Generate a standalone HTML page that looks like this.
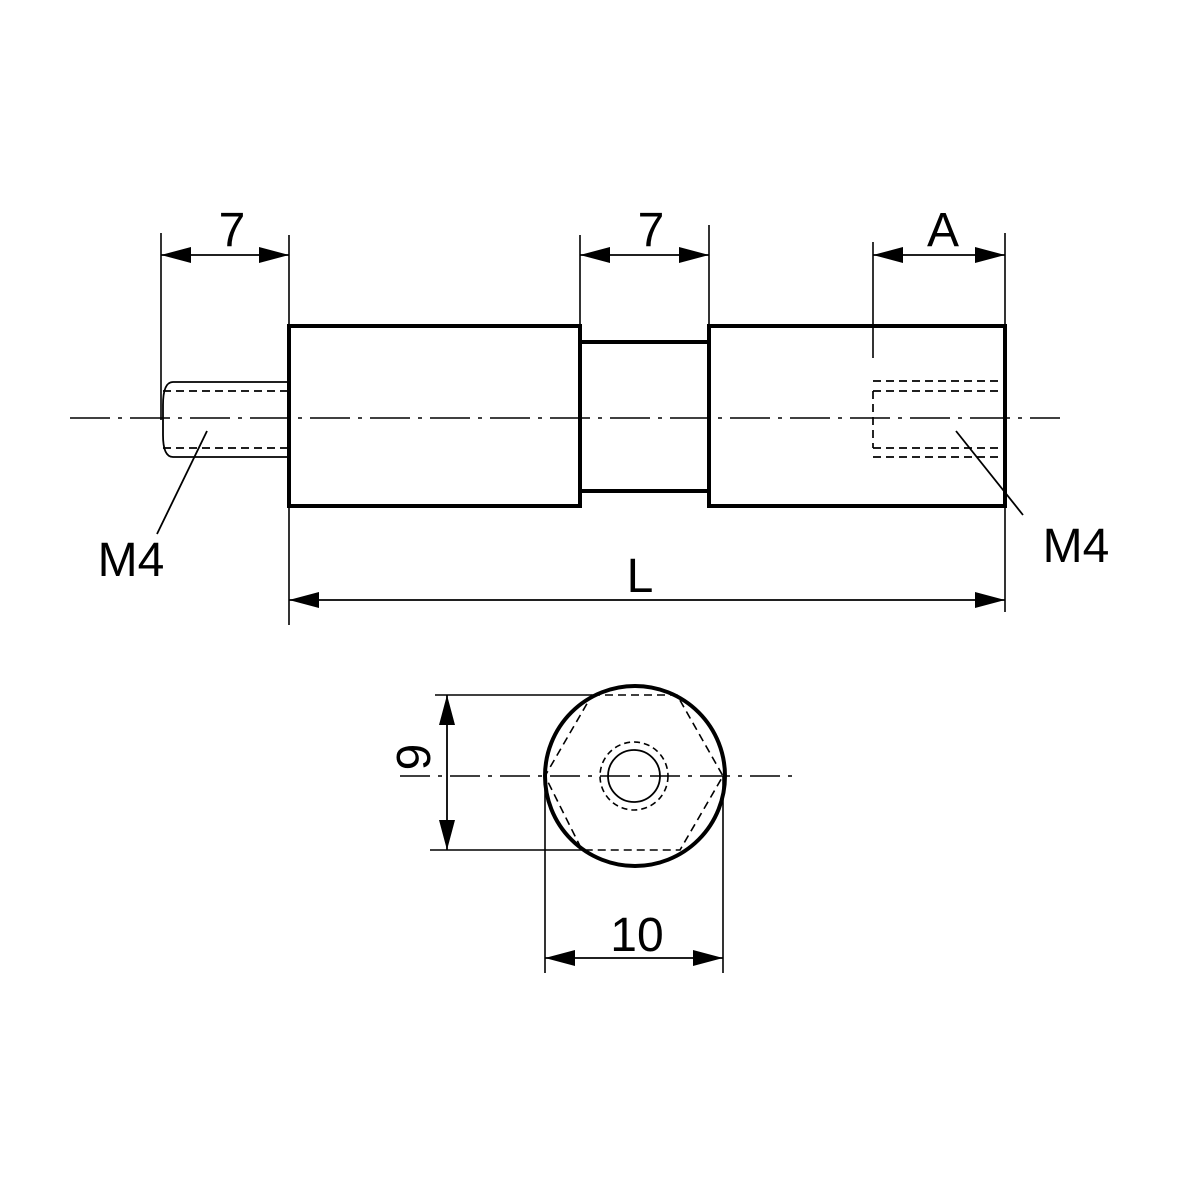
<!DOCTYPE html>
<html><head><meta charset="utf-8"><style>html,body{margin:0;padding:0;background:#fff}</style></head>
<body>
<svg width="1181" height="1181" viewBox="0 0 1181 1181" xmlns="http://www.w3.org/2000/svg" font-family="Liberation Sans, sans-serif">
<defs>
<marker id="a" viewBox="0 0 30 16" refX="30" refY="8" markerWidth="30" markerHeight="16" markerUnits="userSpaceOnUse" orient="auto-start-reverse"><path d="M0,0 L30,8 L0,16 Z" fill="#000"/></marker>
</defs>
<rect width="1181" height="1181" fill="#fff"/>
<g stroke="#000" fill="none">
<line x1="70" y1="418" x2="1060" y2="418" stroke-width="1.5" stroke-dasharray="40,8,4,8"/>
<rect x="289" y="326" width="291" height="180" stroke-width="4"/>
<rect x="580" y="342" width="129" height="149" stroke-width="4"/>
<rect x="709" y="326" width="296" height="180" stroke-width="4"/>
<path d="M289,382 L173,382 Q163,382 163,405 L163,435 Q163,457 173,457 L289,457" stroke-width="1.8"/>
<line x1="163" y1="391" x2="289" y2="391" stroke-width="1.7" stroke-dasharray="8,5"/>
<line x1="163" y1="448" x2="289" y2="448" stroke-width="1.7" stroke-dasharray="8,5"/>
<line x1="873" y1="381" x2="1001" y2="381" stroke-width="1.7" stroke-dasharray="8,5"/>
<line x1="873" y1="457" x2="1001" y2="457" stroke-width="1.7" stroke-dasharray="8,5"/>
<line x1="873" y1="391" x2="1001" y2="391" stroke-width="1.7" stroke-dasharray="8,5"/>
<line x1="873" y1="448" x2="1001" y2="448" stroke-width="1.7" stroke-dasharray="8,5"/>
<line x1="873" y1="391" x2="873" y2="448" stroke-width="1.7" stroke-dasharray="8,5"/>
<line x1="207" y1="431" x2="157" y2="534" stroke-width="1.8"/>
<line x1="956" y1="431" x2="1023" y2="515" stroke-width="1.8"/>
<g stroke-width="1.6">
<line x1="161" y1="233" x2="161" y2="420"/>
<line x1="289" y1="235" x2="289" y2="625"/>
<line x1="580" y1="235" x2="580" y2="326"/>
<line x1="709" y1="225" x2="709" y2="326"/>
<line x1="873" y1="242" x2="873" y2="358"/>
<line x1="1005" y1="233" x2="1005" y2="612"/>
</g>
<g stroke-width="1.8">
<line x1="161" y1="255" x2="289" y2="255" marker-start="url(#a)" marker-end="url(#a)"/>
<line x1="580" y1="255" x2="709" y2="255" marker-start="url(#a)" marker-end="url(#a)"/>
<line x1="873" y1="255" x2="1005" y2="255" marker-start="url(#a)" marker-end="url(#a)"/>
<line x1="289" y1="600" x2="1005" y2="600" marker-start="url(#a)" marker-end="url(#a)"/>
</g>
<line x1="400" y1="776" x2="795" y2="776" stroke-width="1.5" stroke-dasharray="30,8,4,8"/>
<circle cx="635" cy="776" r="90" stroke-width="4"/>
<polygon points="592,695 677,695 723,776 680,850 582,850 545,776" stroke-width="1.6" stroke-dasharray="8,5"/>
<circle cx="634" cy="776" r="26" stroke-width="1.8"/>
<circle cx="634" cy="776" r="34" stroke-width="1.6" stroke-dasharray="6,4"/>
<g stroke-width="1.6">
<line x1="435" y1="695" x2="592" y2="695"/>
<line x1="430" y1="850" x2="582" y2="850"/>
<line x1="545" y1="776" x2="545" y2="973"/>
<line x1="723" y1="776" x2="723" y2="973"/>
</g>
<line x1="447" y1="695" x2="447" y2="850" stroke-width="1.8" marker-start="url(#a)" marker-end="url(#a)"/>
<line x1="545" y1="958" x2="723" y2="958" stroke-width="1.8" marker-start="url(#a)" marker-end="url(#a)"/>
</g>
<g font-size="48" fill="#000" text-anchor="middle">
<text x="232" y="246">7</text>
<text x="651" y="246">7</text>
<text x="943" y="246">A</text>
<text x="640" y="592">L</text>
<text x="131" y="576">M4</text>
<text x="1076" y="562">M4</text>
<text x="637" y="951">10</text>
<text transform="translate(430,757) rotate(-90)">9</text>
</g>
</svg>
</body></html>
